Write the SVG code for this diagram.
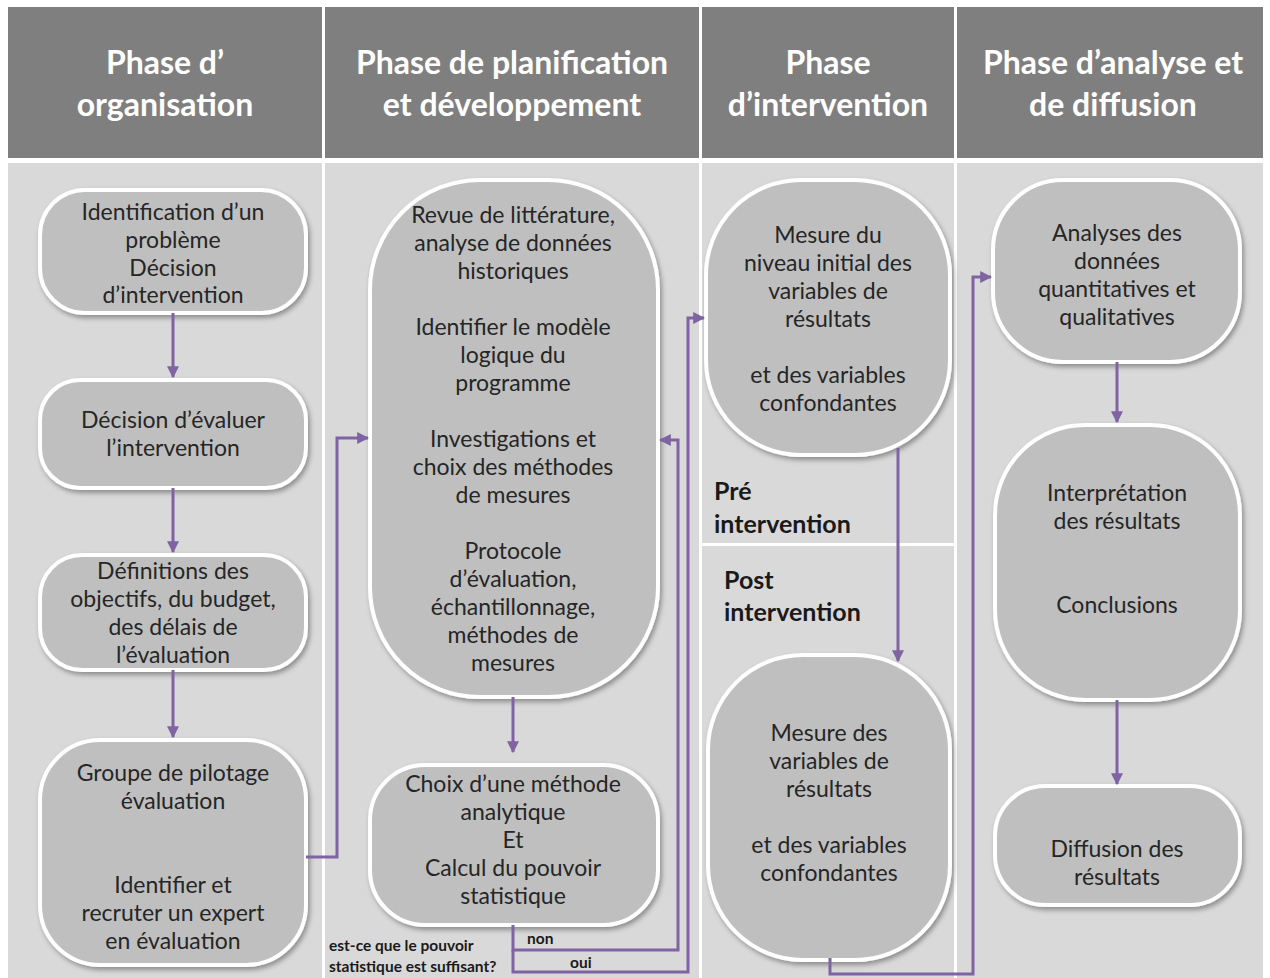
<svg xmlns="http://www.w3.org/2000/svg" width="1270" height="978" viewBox="0 0 1270 978">
<style>
.hdr{fill:#7f7f7f}
.body{fill:#d9d9d9}
.ht{font-family:Lato,"Open Sans",sans-serif;font-weight:bold;font-size:32px;fill:#ffffff;text-anchor:middle}
.node{fill:#bfbfbf;stroke:#ffffff;stroke-width:4;filter:url(#sh)}
.nt{font-family:Lato,"Open Sans",sans-serif;font-size:23px;fill:#262626;text-anchor:middle}
.lbl{font-family:Lato,"Open Sans",sans-serif;font-weight:bold;font-size:25px;fill:#1a1a1a}
.sm{font-family:Lato,"Open Sans",sans-serif;font-weight:bold;font-size:15.5px;fill:#1a1a1a}
.con{fill:none;stroke:#7f63a3;stroke-width:3}
</style>
<defs>
<filter id="sh" x="-10%" y="-10%" width="130%" height="130%">
<feDropShadow dx="2" dy="3" stdDeviation="2.5" flood-color="#000" flood-opacity="0.35"/>
</filter>
<marker id="ah" viewBox="0 0 10 10" refX="9" refY="5" markerWidth="4" markerHeight="4" orient="auto" markerUnits="strokeWidth">
<path d="M0,0 L10,5 L0,10 z" fill="#7f63a3"/>
</marker>
</defs>
<rect x="0" y="0" width="1270" height="978" fill="#ffffff"/>
<g id="background">
<rect class="hdr" x="8" y="7" width="314" height="151"/>
<rect class="hdr" x="325" y="7" width="374" height="151"/>
<rect class="hdr" x="702" y="7" width="252" height="151"/>
<rect class="hdr" x="957" y="7" width="306" height="151"/>
<rect class="body" x="8" y="163" width="314" height="815"/>
<rect class="body" x="325" y="163" width="374" height="815"/>
<rect class="body" x="702" y="163" width="252" height="380"/>
<rect class="body" x="702" y="546" width="252" height="432"/>
<rect class="body" x="957" y="163" width="306" height="815"/>
</g>
<g id="headers">
<text class="ht" x="165" y="74">Phase d’</text>
<text class="ht" x="165" y="116">organisation</text>
<text class="ht" x="512" y="74">Phase de planification</text>
<text class="ht" x="512" y="116">et développement</text>
<text class="ht" x="828" y="74">Phase</text>
<text class="ht" x="828" y="116">d’intervention</text>
<text class="ht" x="1113" y="74">Phase d’analyse et</text>
<text class="ht" x="1113" y="116">de diffusion</text>
</g>
<g id="phase-labels">
<text class="lbl" x="714" y="500">Pré</text>
<text class="lbl" x="714" y="533">intervention</text>
<text class="lbl" x="724" y="589">Post</text>
<text class="lbl" x="724" y="621">intervention</text>
</g>
<g id="n1">
<rect class="node" x="40" y="190" width="266" height="123" rx="45"/>
<text class="nt" x="173" y="220">Identification d’un</text>
<text class="nt" x="173" y="248">problème</text>
<text class="nt" x="173" y="276">Décision</text>
<text class="nt" x="173" y="303">d’intervention</text>
</g>
<g id="n2">
<rect class="node" x="40" y="380" width="266" height="108" rx="40"/>
<text class="nt" x="173" y="428">Décision d’évaluer</text>
<text class="nt" x="173" y="456">l’intervention</text>
</g>
<g id="n3">
<rect class="node" x="40" y="555" width="266" height="115" rx="42"/>
<text class="nt" x="173" y="579">Définitions des</text>
<text class="nt" x="173" y="607">objectifs, du budget,</text>
<text class="nt" x="173" y="635">des délais de</text>
<text class="nt" x="173" y="663">l’évaluation</text>
</g>
<g id="n4">
<rect class="node" x="40" y="740" width="266" height="225" rx="60"/>
<text class="nt" x="173" y="781">Groupe de pilotage</text>
<text class="nt" x="173" y="809">évaluation</text>
<text class="nt" x="173" y="893">Identifier et</text>
<text class="nt" x="173" y="921">recruter un expert</text>
<text class="nt" x="173" y="949">en évaluation</text>
</g>
<g id="n5">
<rect class="node" x="370" y="180" width="288" height="517" rx="110"/>
<text class="nt" x="513" y="223">Revue de littérature,</text>
<text class="nt" x="513" y="251">analyse de données</text>
<text class="nt" x="513" y="279">historiques</text>
<text class="nt" x="513" y="335">Identifier le modèle</text>
<text class="nt" x="513" y="363">logique du</text>
<text class="nt" x="513" y="391">programme</text>
<text class="nt" x="513" y="447">Investigations et</text>
<text class="nt" x="513" y="475">choix des méthodes</text>
<text class="nt" x="513" y="503">de mesures</text>
<text class="nt" x="513" y="559">Protocole</text>
<text class="nt" x="513" y="587">d’évaluation,</text>
<text class="nt" x="513" y="615">échantillonnage,</text>
<text class="nt" x="513" y="643">méthodes de</text>
<text class="nt" x="513" y="671">mesures</text>
</g>
<g id="n6">
<rect class="node" x="370" y="765" width="288" height="160" rx="55"/>
<text class="nt" x="513" y="792">Choix d’une méthode</text>
<text class="nt" x="513" y="820">analytique</text>
<text class="nt" x="513" y="848">Et</text>
<text class="nt" x="513" y="876">Calcul du pouvoir</text>
<text class="nt" x="513" y="904">statistique</text>
</g>
<g id="n7">
<rect class="node" x="706" y="180" width="244" height="275" rx="95"/>
<text class="nt" x="828" y="243">Mesure du</text>
<text class="nt" x="828" y="271">niveau initial des</text>
<text class="nt" x="828" y="299">variables de</text>
<text class="nt" x="828" y="327">résultats</text>
<text class="nt" x="828" y="383">et des variables</text>
<text class="nt" x="828" y="411">confondantes</text>
</g>
<g id="n8">
<rect class="node" x="708" y="655" width="242" height="305" rx="95"/>
<text class="nt" x="829" y="741">Mesure des</text>
<text class="nt" x="829" y="769">variables de</text>
<text class="nt" x="829" y="797">résultats</text>
<text class="nt" x="829" y="853">et des variables</text>
<text class="nt" x="829" y="881">confondantes</text>
</g>
<g id="n9">
<rect class="node" x="993" y="180" width="247" height="182" rx="70"/>
<text class="nt" x="1117" y="241">Analyses des</text>
<text class="nt" x="1117" y="269">données</text>
<text class="nt" x="1117" y="297">quantitatives et</text>
<text class="nt" x="1117" y="325">qualitatives</text>
</g>
<g id="n10">
<rect class="node" x="995" y="425" width="245" height="275" rx="90"/>
<text class="nt" x="1117" y="501">Interprétation</text>
<text class="nt" x="1117" y="529">des résultats</text>
<text class="nt" x="1117" y="613">Conclusions</text>
</g>
<g id="n11">
<rect class="node" x="995" y="786" width="245" height="119" rx="50"/>
<text class="nt" x="1117" y="857">Diffusion des</text>
<text class="nt" x="1117" y="885">résultats</text>
</g>
<g id="connectors">
<path class="con" d="M173,313 V377" marker-end="url(#ah)"/>
<path class="con" d="M173,488 V552" marker-end="url(#ah)"/>
<path class="con" d="M173,670 V737" marker-end="url(#ah)"/>
<path class="con" d="M306,857 H337 V438 H368" marker-end="url(#ah)"/>
<path class="con" d="M513,697 V752" marker-end="url(#ah)"/>
<path class="con" d="M513,925 V950 H678 V440 H660" marker-end="url(#ah)"/>
<path class="con" d="M513,950 V972 H688 V318 H704" marker-end="url(#ah)"/>
<path class="con" d="M898,448 V661" marker-end="url(#ah)"/>
<path class="con" d="M830,958 V974 H973 V277 H991" marker-end="url(#ah)"/>
<path class="con" d="M1117,362 V422" marker-end="url(#ah)"/>
<path class="con" d="M1117,700 V784" marker-end="url(#ah)"/>
</g>
<g id="decision-label">
<text class="sm" x="329" y="951">est-ce que le pouvoir</text>
<text class="sm" x="329" y="972">statistique est suffisant?</text>
<text class="sm" x="527" y="944">non</text>
<text class="sm" x="570" y="968">oui</text>
</g>
</svg>
